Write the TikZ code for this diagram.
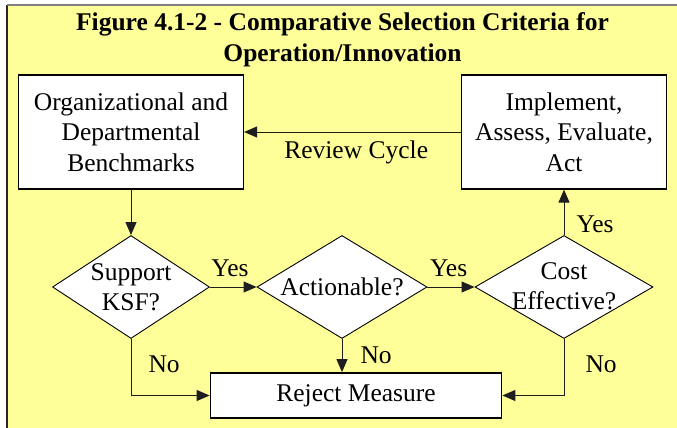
\documentclass[tikz,border=0pt]{standalone}
\usepackage{fontspec}
\setmainfont{Liberation Serif}
\usetikzlibrary{shapes.geometric,arrows.meta}
\definecolor{bgyellow}{RGB}{255,255,153}
\definecolor{lncol}{RGB}{30,30,30}
\begin{document}
\begin{tikzpicture}[x=1pt,y=-1pt,
  txt/.style={font=\fontsize{25.5}{30.5}\selectfont, align=center, inner sep=0pt},
  boxnode/.style={txt, draw=black, line width=1.2pt, fill=white, rectangle},
  dia/.style={draw=black, line width=0.9pt, fill=white, diamond, inner sep=0pt},
  conn/.style={draw=lncol, line width=1pt, -{Triangle[length=13pt,width=11pt]}},
  lbl/.style={txt}]
\useasboundingbox (0,0) rectangle (677,428);
\fill[bgyellow] (7,5) rectangle (677,428);
\draw[line width=1.5pt, black!85] (7,428) -- (7,5);
\draw[line width=1.5pt, gray] (7,5) -- (677,5);

\node[txt, font=\bfseries\fontsize{25.5}{31}\selectfont] (title) at (342.5,40)
  {Figure 4.1-2 - Comparative Selection Criteria for\\Operation/Innovation};

\node[boxnode, minimum width=225pt, minimum height=114pt] (b1) at (131,132)
  {Organizational and\\Departmental\\Benchmarks};
\node[boxnode, minimum width=205pt, minimum height=114pt] (b2) at (564,132)
  {Implement,\\Assess, Evaluate,\\Act};

\node[dia, minimum width=157pt, minimum height=103pt] (d1) at (131,287) {};
\node[txt] (d1t) at (131,287) {Support\\KSF?};
\node[dia, minimum width=170pt, minimum height=103pt] (d2) at (342,287) {};
\node[txt] (d2t) at (342,287) {Actionable?};
\node[dia, minimum width=178pt, minimum height=103pt] (d3) at (564,287) {};
\node[txt] (d3t) at (564,286) {Cost\\Effective?};

\node[boxnode, line width=1.8pt, minimum width=291pt, minimum height=45pt] (r) at (356,395.5)
  {Reject Measure};

\draw[conn] (b2.west) -- node[lbl, below=8pt, pos=0.483] (rc) {Review Cycle} (b1.east);
\draw[conn] (b1.south) -- (d1.north);
\draw[conn] (d1.east) -- node[lbl, above=10pt, pos=0.43] (y1) {Yes} (d2.west);
\draw[conn] (d2.east) -- node[lbl, above=10pt, pos=0.45] (y2) {Yes} (d3.west);
\draw[conn] (d3.north) -- node[lbl, right=12pt, pos=0.245] (y3) {Yes} (b2.south);
\draw[conn] (d1.south) |- node[lbl, right=17pt, pos=0.224] (n1) {No} (r.west);
\draw[conn] (d2.south) -- node[lbl, right=18pt, pos=0.48] (n2) {No} (d2.south |- r.north);
\draw[conn] (d3.south) |- node[lbl, right=21pt, pos=0.224] (n3) {No} (r.east);
\end{tikzpicture}
\end{document}
